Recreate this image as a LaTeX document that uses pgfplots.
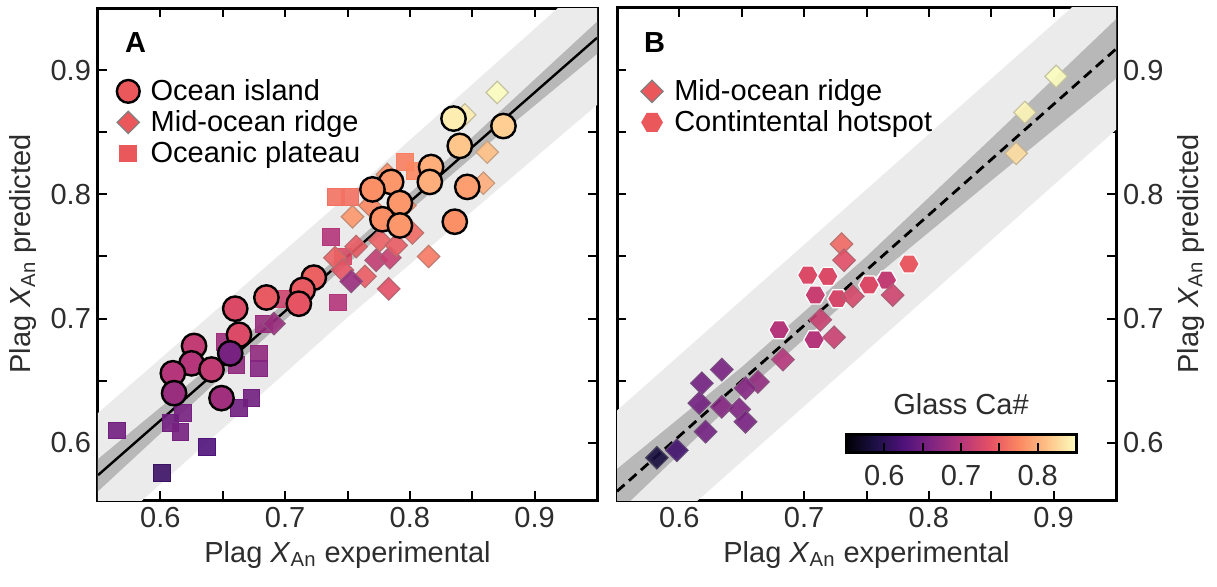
\documentclass[border=0pt]{standalone}
\usepackage{fontspec}
\setmainfont{Liberation Sans}
\usepackage{pgfplots}
\pgfplotsset{compat=1.18}
\usetikzlibrary{calc}

\newcommand{\fs}{\fontsize{14.5}{17}\selectfont}

% extra marks
\pgfdeclareplotmark{hexagon*}{%
  \pgfpathmoveto{\pgfqpointpolar{0}{\pgfplotmarksize}}%
  \pgfpathlineto{\pgfqpointpolar{60}{\pgfplotmarksize}}%
  \pgfpathlineto{\pgfqpointpolar{120}{\pgfplotmarksize}}%
  \pgfpathlineto{\pgfqpointpolar{180}{\pgfplotmarksize}}%
  \pgfpathlineto{\pgfqpointpolar{240}{\pgfplotmarksize}}%
  \pgfpathlineto{\pgfqpointpolar{300}{\pgfplotmarksize}}%
  \pgfpathclose
  \pgfusepathqfillstroke}
\pgfdeclareplotmark{dia*}{%
  \pgfpathmoveto{\pgfqpoint{0pt}{\pgfplotmarksize}}%
  \pgfpathlineto{\pgfqpoint{\pgfplotmarksize}{0pt}}%
  \pgfpathlineto{\pgfqpoint{0pt}{-\pgfplotmarksize}}%
  \pgfpathlineto{\pgfqpoint{-\pgfplotmarksize}{0pt}}%
  \pgfpathclose
  \pgfusepathqfillstroke}

\definecolor{legc}{RGB}{234,88,92}
\definecolor{txt}{RGB}{45,45,45}

\pgfplotsset{
  colormap={magma}{rgb255=(0,0,4) rgb255=(28,16,68) rgb255=(79,18,123) rgb255=(129,37,129) rgb255=(181,54,122) rgb255=(229,80,100) rgb255=(251,135,97) rgb255=(254,194,135) rgb255=(252,253,191)},
  panel/.style={
    scale only axis, width=249.5pt, height=246pt,
    xmin=0.55, xmax=0.95, ymin=0.554, ymax=0.95,
    xtick={0.6,0.7,0.8,0.9}, ytick={0.6,0.7,0.8,0.9},
    xticklabels={0.6,0.7,0.8,0.9}, yticklabels={0.6,0.7,0.8,0.9},
    minor tick num=1,
    tick align=inside,
    major tick length=4.5pt, minor tick length=4.5pt,
    tick style={black, line width=1pt},
    axis line style={line width=1.5pt},
    tick label style={font=\fs, text=txt},
    label style={font=\fs, text=txt},
    /pgf/number format/assume math mode=true,
    point meta min=0.55, point meta max=0.85,
    colormap name=magma,
    legend cell align=left,
  },
  circ/.style={scatter, only marks, mark=*, mark size=6.1pt, scatter src=explicit,
    scatter/use mapped color={draw=black, fill=mapped color}, mark options={line width=1.2pt}, forget plot},
  dia/.style={scatter, only marks, mark=dia*, mark size=5.6pt, scatter src=explicit,
    scatter/use mapped color={draw=mapped color!55!gray, fill=mapped color}, mark options={line width=0.6pt, fill opacity=0.9}, forget plot},
  sqr/.style={scatter, only marks, mark=square*, mark size=4.2pt, scatter src=explicit,
    scatter/use mapped color={draw=mapped color, fill=mapped color}, mark options={line width=0.4pt, fill opacity=0.9}, forget plot},
  hex/.style={scatter, only marks, mark=hexagon*, mark size=5.2pt, scatter src=explicit,
    scatter/use mapped color={draw=white, fill=mapped color}, mark options={line width=0.6pt}, forget plot},
}

\begin{document}
\begin{tikzpicture}

% ---------------- panel A ----------------
\begin{axis}[panel, name=A,
  xlabel={Plag \textit{X}\textsubscript{An} experimental},
  ylabel={Plag \textit{X}\textsubscript{An} predicted},
  legend style={draw=none, fill=none, font=\fs, at={(0.025,0.87)}, anchor=north west,
    row sep=0.5pt, column sep=4pt, nodes={inner sep=1.5pt}},
]
% prediction and confidence bands
\addplot[draw=none, fill=black!8, forget plot] coordinates {
  (0.55,0.624) (0.75,0.799) (0.95,0.978) (0.95,0.872) (0.75,0.701) (0.55,0.522)} -- cycle;
\addplot[draw=none, fill=black!28, forget plot] coordinates {
  (0.55,0.587) (0.65,0.670) (0.75,0.756) (0.85,0.846) (0.95,0.939)
  (0.95,0.913) (0.85,0.830) (0.75,0.744) (0.65,0.654) (0.55,0.561)} -- cycle;

\addlegendimage{only marks, mark=*, mark size=5.7pt, mark options={draw=black, fill=legc, line width=1.2pt}}
\addlegendentry{Ocean island}
\addlegendimage{only marks, mark=dia*, mark size=5.6pt, mark options={draw=gray, fill=legc, line width=0.6pt}}
\addlegendentry{Mid-ocean ridge}
\addlegendimage{only marks, mark=square*, mark size=4.2pt, mark options={draw=legc, fill=legc}}
\addlegendentry{Oceanic plateau}

% oceanic plateau
\addplot[sqr] table[meta=c] {
x y c
0.737 0.766 0.70
0.742 0.713 0.70
0.683 0.696 0.68
0.679 0.672 0.675
0.679 0.660 0.665
0.652 0.681 0.685
0.661 0.663 0.675
0.673 0.636 0.65
0.663 0.628 0.65
0.618 0.624 0.655
0.608 0.616 0.65
0.616 0.609 0.655
0.637 0.597 0.625
0.601 0.576 0.61
0.565 0.610 0.65
0.741 0.798 0.76
0.752 0.798 0.76
0.796 0.826 0.77
0.804 0.819 0.775
0.746 0.750 0.73
0.698 0.716 0.72
};
% mid-ocean ridge
\addplot[dia] table[meta=c] {
x y c
0.870 0.882 0.85
0.844 0.864 0.84
0.862 0.834 0.81
0.859 0.809 0.80
0.815 0.750 0.765
0.783 0.724 0.735
0.754 0.782 0.785
0.764 0.734 0.745
0.740 0.749 0.75
0.746 0.739 0.74
0.773 0.747 0.71
0.784 0.749 0.715
0.757 0.758 0.745
0.776 0.763 0.75
0.789 0.759 0.745
0.802 0.769 0.755
0.753 0.730 0.68
0.691 0.696 0.68
0.768 0.791 0.775
0.796 0.791 0.78
0.782 0.816 0.78
};
% ocean island
\addplot[circ] table[meta=c] {
x y c
0.835 0.861 0.84
0.875 0.855 0.82
0.840 0.839 0.815
0.817 0.822 0.80
0.816 0.810 0.80
0.785 0.810 0.785
0.770 0.804 0.78
0.846 0.806 0.79
0.792 0.793 0.785
0.778 0.780 0.78
0.792 0.775 0.785
0.836 0.778 0.78
0.723 0.733 0.75
0.714 0.723 0.745
0.711 0.712 0.74
0.685 0.717 0.745
0.660 0.708 0.73
0.663 0.687 0.73
0.627 0.678 0.71
0.625 0.664 0.70
0.610 0.656 0.70
0.641 0.659 0.71
0.656 0.672 0.655
0.611 0.640 0.68
0.649 0.636 0.685
};
\addplot[black, line width=1.2pt, forget plot] coordinates {(0.55,0.574) (0.95,0.926)};
\node[anchor=north west, font=\bfseries\fs, text=black] at (rel axis cs:0.04,0.965) {A};
\end{axis}

% ---------------- panel B ----------------
\begin{axis}[panel, name=B,
  at={($(A.south east)+(10pt,0pt)$)}, anchor=south west,
  yticklabel pos=right, ylabel near ticks,
  xlabel={Plag \textit{X}\textsubscript{An} experimental},
  ylabel={Plag \textit{X}\textsubscript{An} predicted},
  ylabel style={font=\fs, text=txt},
  legend style={draw=none, fill=none, font=\fs, at={(0.035,0.87)}, anchor=north west,
    row sep=0.5pt, column sep=4pt, nodes={inner sep=1.5pt}},
  colorbar horizontal,
  colorbar style={
    at={($(parent axis.south east)+(-20pt,32.5pt)$)}, anchor=south east,
    scale only axis, width=115pt, height=9pt, axis on top,
    xtick={0.6,0.7,0.8}, xticklabels={0.6,0.7,0.8}, minor x tick num=1,
    xtick pos=bottom, tick align=inside,
    major tick length=4.5pt, minor tick length=4.5pt,
    tick style={black, line width=1pt},
    axis line style={line width=1.5pt},
    tick label style={font=\fs, text=txt},
    xticklabel style={yshift=-3pt},
    /pgf/number format/assume math mode=true,
    title={Glass Ca\#}, title style={font=\fs, text=txt},
  },
]
\addplot[draw=none, fill=black!8, forget plot] coordinates {
  (0.55,0.626) (0.95,0.982) (0.95,0.852) (0.55,0.496)} -- cycle;
\addplot[draw=none, fill=black!28, forget plot] coordinates {
  (0.55,0.579) (0.65,0.661) (0.75,0.750) (0.85,0.845) (0.95,0.941)
  (0.95,0.893) (0.85,0.811) (0.75,0.728) (0.65,0.639) (0.55,0.543)} -- cycle;

\addlegendimage{only marks, mark=dia*, mark size=5.6pt, mark options={draw=gray, fill=legc, line width=0.6pt}}
\addlegendentry{Mid-ocean ridge}
\addlegendimage{only marks, mark=hexagon*, mark size=5.2pt, mark options={draw=legc, fill=legc}}
\addlegendentry{Contintental hotspot}

% continental hotspot
\addplot[hex] table[meta=c] {
x y c
0.784 0.744 0.745
0.703 0.735 0.73
0.719 0.734 0.73
0.709 0.719 0.715
0.727 0.716 0.725
0.766 0.731 0.71
0.752 0.727 0.73
0.680 0.691 0.70
0.708 0.683 0.70
};
% mid-ocean ridge
\addplot[dia] table[meta=c] {
x y c
0.713 0.699 0.715
0.730 0.760 0.755
0.732 0.747 0.735
0.739 0.718 0.725
0.771 0.719 0.72
0.724 0.685 0.715
0.683 0.667 0.70
0.663 0.649 0.675
0.653 0.644 0.665
0.634 0.659 0.655
0.618 0.648 0.65
0.616 0.632 0.65
0.634 0.629 0.665
0.648 0.627 0.66
0.653 0.617 0.655
0.621 0.609 0.65
0.598 0.594 0.615
0.582 0.588 0.585
0.902 0.895 0.85
0.877 0.866 0.845
0.870 0.833 0.83
};
\addplot[black, line width=1.4pt, dash pattern=on 5pt off 3pt, forget plot] coordinates {(0.55,0.561) (0.95,0.917)};
\node[anchor=north west, font=\bfseries\fs, text=black] at (rel axis cs:0.04,0.965) {B};
\end{axis}

\path ($(A.south west)+(-49pt,-43pt)$) rectangle ($(A.south west)+(559.5pt,250pt)$);
\end{tikzpicture}
\end{document}
